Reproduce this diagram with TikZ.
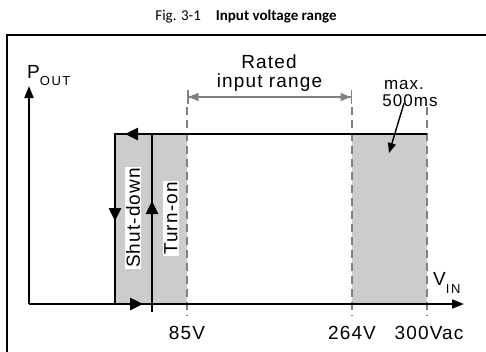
\documentclass[tikz,border=0pt]{standalone}
\usepackage{fontspec}
\setmainfont{Liberation Sans}
\newfontfamily\titlefont{Carlito}
\usetikzlibrary{arrows.meta,calc}

\definecolor{zonegray}{RGB}{204,204,204}
\definecolor{limitgray}{RGB}{128,128,128}

\begin{document}
\begin{tikzpicture}[x=1pt, y=-1pt,
			every node/.style={font=\fontsize{19}{19}\selectfont\addfontfeature{LetterSpace=6}, inner sep=0pt},
			heavy/.style={line width=2.5pt},
			axis/.style={line width=1.9pt, -{Triangle[length=12pt,width=9pt]}},
			flow/.style={heavy, -{Triangle[length=13pt,width=12pt]}},
			limit/.style={limitgray, line width=1.4pt, dash pattern=on 8pt off 5pt},
			tag/.style={fill=white, inner sep=1.2pt, rotate=90}]
			\useasboundingbox (0,0) rectangle (486,351);
			% frame and title
			\draw[line width=1.3pt] (7,35) rectangle (500,370);
			\node (title) at (246,17) {\titlefont\fontsize{15}{16}\selectfont Fig. 3-1\quad\textbf{Input voltage range}};
			% points of the chart
			\coordinate (origin) at (29,304);
			\coordinate (ytop) at (29,86);
			\coordinate (xend) at (464,304);
			\coordinate (sdtop) at (115,134); \coordinate (sdbot) at (115,304);
			\coordinate (ontop) at (152,134); \coordinate (onbot) at (152,312);
			\coordinate (hold) at (427,134);
			% shaded zones
			\fill[zonegray] (sdtop) rectangle (187,304);
			\fill[zonegray] (352,134) rectangle (427,304);
			\foreach \x in {187,352,427}
				\draw[limit] (\x,107) -- (\x,316);
			% rated range
			\coordinate (lo) at (187,97); \coordinate (hi) at (352,97);
			\draw[limitgray, line width=1.5pt, {Bar[width=14pt]Triangle[length=10pt,width=8pt]}-{Triangle[length=10pt,width=8pt]Bar[width=14pt]}] (lo) -- (hi);
			\node[anchor=base] (rated) at (269,68) {Rated};
			\node[anchor=base] (range) at (269.5,87) {input range};
			% axes
			\draw[axis] (origin) -- (ytop);
			\draw[axis] (origin) -- (xend);
			\node[anchor=base west] (pout) at (27,78) {P\raisebox{-7pt}{\fontsize{13}{13}\selectfont\addfontfeature{LetterSpace=12}OUT}};
			\node[anchor=base west] (vin) at (433,285) {V\raisebox{-8pt}{\fontsize{13}{13}\selectfont\addfontfeature{LetterSpace=12}IN}};
			% hysteresis loop
			\draw[heavy] (sdbot) -- (sdtop) -- (hold);
			\draw[heavy] (onbot) -- (ontop);
			\draw[flow] ($(sdtop)+(26,0)$) -- ($(sdtop)+(10,0)$);
			\draw[flow] ($(sdtop)+(0,70)$) -- ($(sdtop)+(0,87)$);
			\draw[flow] ($(ontop)+(0,84)$) -- ($(ontop)+(0,67)$);
			\draw[flow] ($(sdbot)+(8,0)$) -- ($(sdbot)+(28,0)$);
			\node[tag] (shutdown) at (133,218) {Shut-down};
			\node[tag] (turnon) at (171,218.5) {Turn-on};
			% overvoltage window
			\node[anchor=base] (maxlbl) at (404,89) {\fontsize{17}{17}\selectfont max.};
			\node[anchor=base] (mslbl) at (410,106) {\fontsize{17}{17}\selectfont 500ms};
			\coordinate (window) at (389,153);
			\draw[line width=1.4pt, -{Triangle[length=10pt,width=8pt]}] ([xshift=-6pt, yshift=3pt]mslbl.south) -- (window);
			% tick labels
			\node[anchor=base] (v85) at (187,339) {85V};
			\node[anchor=base] (v264) at (352,339) {264V};
			\node[anchor=base] (v300) at (429,339) {300Vac};
		\end{tikzpicture}
\end{document}
